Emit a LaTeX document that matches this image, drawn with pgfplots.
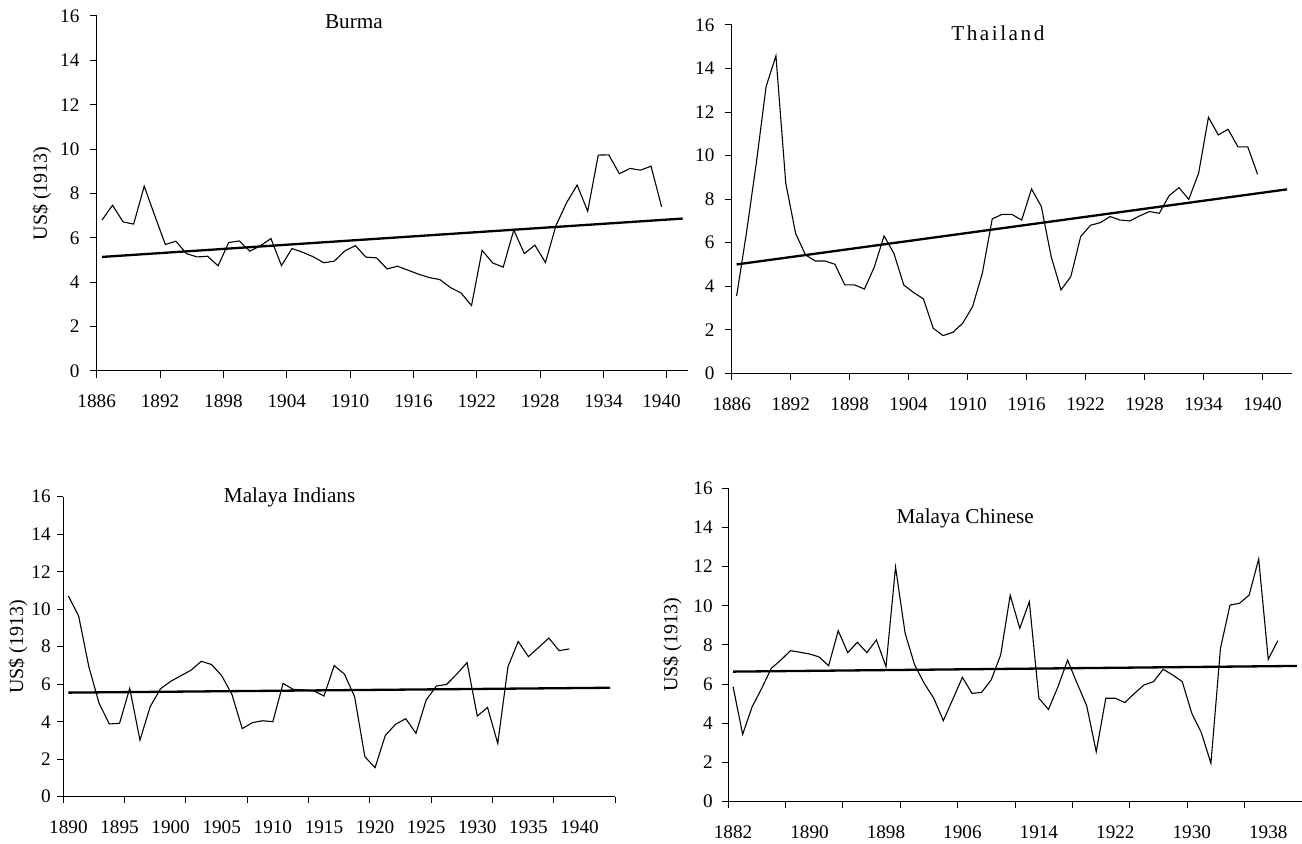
\documentclass[border=0pt]{standalone}
\usepackage{fontspec}
\setmainfont{Liberation Serif}
\usepackage{pgfplots}
\pgfplotsset{compat=1.18}
\usepackage{pgfplotstable}

\pgfplotstableread{
year val
1886 6.80
1887 7.47
1888 6.72
1889 6.62
1890 8.33
1891 7.00
1892 5.70
1893 5.85
1894 5.29
1895 5.14
1896 5.17
1897 4.74
1898 5.79
1899 5.86
1900 5.40
1901 5.64
1902 5.97
1903 4.75
1904 5.52
1905 5.35
1906 5.15
1907 4.88
1908 4.95
1909 5.41
1910 5.65
1911 5.13
1912 5.10
1913 4.60
1914 4.72
1915 4.54
1916 4.36
1917 4.21
1918 4.12
1919 3.76
1920 3.52
1921 2.95
1922 5.44
1923 4.87
1924 4.68
1925 6.35
1926 5.29
1927 5.67
1928 4.89
1929 6.56
1930 7.58
1931 8.38
1932 7.20
1933 9.73
1934 9.74
1935 8.89
1936 9.13
1937 9.05
1938 9.23
1939 7.40
}\burma

\pgfplotstableread{
year val
1886 3.55
1887 6.45
1888 9.65
1889 13.17
1890 14.58
1891 8.73
1892 6.43
1893 5.44
1894 5.16
1895 5.16
1896 5.01
1897 4.06
1898 4.06
1899 3.87
1900 4.87
1901 6.31
1902 5.51
1903 4.06
1904 3.71
1905 3.42
1906 2.07
1907 1.73
1908 1.88
1909 2.30
1910 3.06
1911 4.60
1912 7.09
1913 7.30
1914 7.30
1915 7.04
1916 8.47
1917 7.66
1918 5.36
1919 3.83
1920 4.44
1921 6.28
1922 6.80
1923 6.92
1924 7.20
1925 7.04
1926 7.00
1927 7.23
1928 7.43
1929 7.35
1930 8.16
1931 8.53
1932 7.99
1933 9.19
1934 11.76
1935 10.95
1936 11.21
1937 10.40
1938 10.40
1939 9.14
}\thai

\pgfplotstableread{
year val
1890 10.70
1891 9.64
1892 6.93
1893 4.98
1894 3.88
1895 3.91
1896 5.78
1897 3.02
1898 4.80
1899 5.75
1900 6.15
1901 6.45
1902 6.75
1903 7.22
1904 7.05
1905 6.45
1906 5.45
1907 3.63
1908 3.95
1909 4.05
1910 4.00
1911 6.04
1912 5.72
1913 5.70
1914 5.65
1915 5.37
1916 6.99
1917 6.54
1918 5.33
1919 2.13
1920 1.55
1921 3.27
1922 3.86
1923 4.16
1924 3.38
1925 5.16
1926 5.90
1927 5.99
1928 6.54
1929 7.15
1930 4.30
1931 4.76
1932 2.84
1933 6.93
1934 8.28
1935 7.47
1936 7.96
1937 8.46
1938 7.79
1939 7.88
}\indians

\pgfplotstableread{
year val
1882 5.87
1883 3.44
1884 4.85
1885 5.79
1886 6.81
1887 7.23
1888 7.71
1889 7.63
1890 7.54
1891 7.39
1892 6.94
1893 8.73
1894 7.61
1895 8.14
1896 7.61
1897 8.26
1898 6.89
1899 11.98
1900 8.60
1901 6.98
1902 6.04
1903 5.28
1904 4.14
1905 5.24
1906 6.35
1907 5.53
1908 5.58
1909 6.21
1910 7.49
1911 10.54
1912 8.85
1913 10.21
1914 5.28
1915 4.71
1916 5.87
1917 7.23
1918 6.04
1919 4.90
1920 2.55
1921 5.28
1922 5.28
1923 5.06
1924 5.53
1925 5.96
1926 6.13
1927 6.76
1928 6.47
1929 6.13
1930 4.51
1931 3.52
1932 1.96
1933 7.83
1934 10.04
1935 10.13
1936 10.55
1937 12.39
1938 7.27
1939 8.22
}\chinese

\newcommand\tkfont{\fontsize{9.6}{11}\selectfont}
\newcommand\ttlfont{\fontsize{10.6}{12}\selectfont}
\newcommand\lblfont{\fontsize{10}{12}\selectfont}

\pgfplotsset{
  econ/.style={
    scale only axis,
    anchor=south west,
    ymin=0, ymax=16,
    ytick={0,2,4,6,8,10,12,14,16},
    axis x line*=bottom,
    axis y line*=left,
    tick align=outside,
    major tick length=3.3pt,
    every tick/.style={black, line width=0.5pt},
    axis line style={black, line width=0.5pt},
    tick label style={font=\tkfont},
    /pgf/number format/assume math mode=true,
    xticklabels={},
    extra x tick style={major tick length=0pt, tick style={draw=none},
      xticklabel style={yshift=-8.5pt}},
    clip=false,
  },
  series/.style={black, line width=0.55pt},
  trend/.style={black, line width=1.15pt},
}

\begin{document}
\begin{tikzpicture}
\useasboundingbox (0,0) rectangle (651pt,422pt);

% Burma
\begin{axis}[econ, at={(48.35pt,236.5pt)}, width=295.65pt, height=177.5pt,
  xmin=1885.5, xmax=1941.5,
  yticklabel style={xshift=-1.8pt},
  xtick={1885.5,1891.5,1897.5,1903.5,1909.5,1915.5,1921.5,1927.5,1933.5,1939.5},
  extra x ticks={1885.5,1891.5,1897.5,1903.5,1909.5,1915.5,1921.5,1927.5,1933.5,1939},
  extra x tick labels={1886,1892,1898,1904,1910,1916,1922,1928,1934,1940}]
\addplot[series] table[x=year,y=val] {\burma};
\addplot[trend] coordinates {(1886,5.14) (1941,6.87)};
\node[font=\ttlfont] at (rel axis cs:0.435,0.983) {Burma};
\node[rotate=90, font=\lblfont] at ([xshift=-27.5pt]rel axis cs:0,0.5) {US\$ (1913)};
\end{axis}

% Thailand
\begin{axis}[econ, at={(365.85pt,235.35pt)}, width=280.15pt, height=174.15pt,
  xmin=1885.5, xmax=1942.5,
  yticklabel style={xshift=-1.8pt},
  xtick={1885.5,1891.5,1897.5,1903.5,1909.5,1915.5,1921.5,1927.5,1933.5,1939.5},
  extra x ticks={1885.5,1891.5,1897.5,1903.5,1909.5,1915.5,1921.5,1927.5,1933.5,1939.5},
  extra x tick labels={1886,1892,1898,1904,1910,1916,1922,1928,1934,1940}]
\addplot[series] table[x=year,y=val] {\thai};
\addplot[trend] coordinates {(1886,5.00) (1942,8.45)};
\node[font=\ttlfont] at (rel axis cs:0.475,0.977) {\addfontfeatures{LetterSpace=12}Thailand};
\end{axis}

% Malaya Indians
\begin{axis}[econ, at={(31.65pt,23.65pt)}, width=276pt, height=150pt,
  xmin=1889.5, xmax=1943.5,
  yticklabel style={xshift=0.5pt},
  xtick={1889.5,1895.5,1901.5,1907.5,1913.5,1919.5,1925.5,1931.5,1937.5,1943.5},
  extra x ticks={1890,1895,1900,1905,1910,1915,1920,1925,1930,1935,1940},
  extra x tick labels={1890,1895,1900,1905,1910,1915,1920,1925,1930,1935,1940}]
\addplot[series] table[x=year,y=val] {\indians};
\addplot[trend] coordinates {(1890,5.55) (1943,5.81)};
\node[font=\ttlfont] at (rel axis cs:0.41,0.997) {Malaya Indians};
\node[rotate=90, font=\lblfont] at ([xshift=-22.7pt]rel axis cs:0,0.5) {US\$ (1913)};
\end{axis}

% Malaya Chinese
\begin{axis}[econ, at={(364.15pt,21.15pt)}, width=286.7pt, height=156.7pt,
  xmin=1881.5, xmax=1941.5,
  yticklabel style={xshift=-1pt},
  xtick={1881.5,1887.5,1893.5,1899.5,1905.5,1911.5,1917.5,1923.5,1929.5,1935.5},
  extra x ticks={1882,1890,1898,1906,1914,1922,1930,1938},
  extra x tick labels={1882,1890,1898,1906,1914,1922,1930,1938}]
\addplot[series] table[x=year,y=val] {\chinese};
\addplot[trend] coordinates {(1882,6.64) (1941,6.93)};
\node[font=\ttlfont] at (rel axis cs:0.413,0.904) {Malaya Chinese};
\node[rotate=90, font=\lblfont] at ([xshift=-28pt]rel axis cs:0,0.5) {US\$ (1913)};
\end{axis}
\end{tikzpicture}
\end{document}
